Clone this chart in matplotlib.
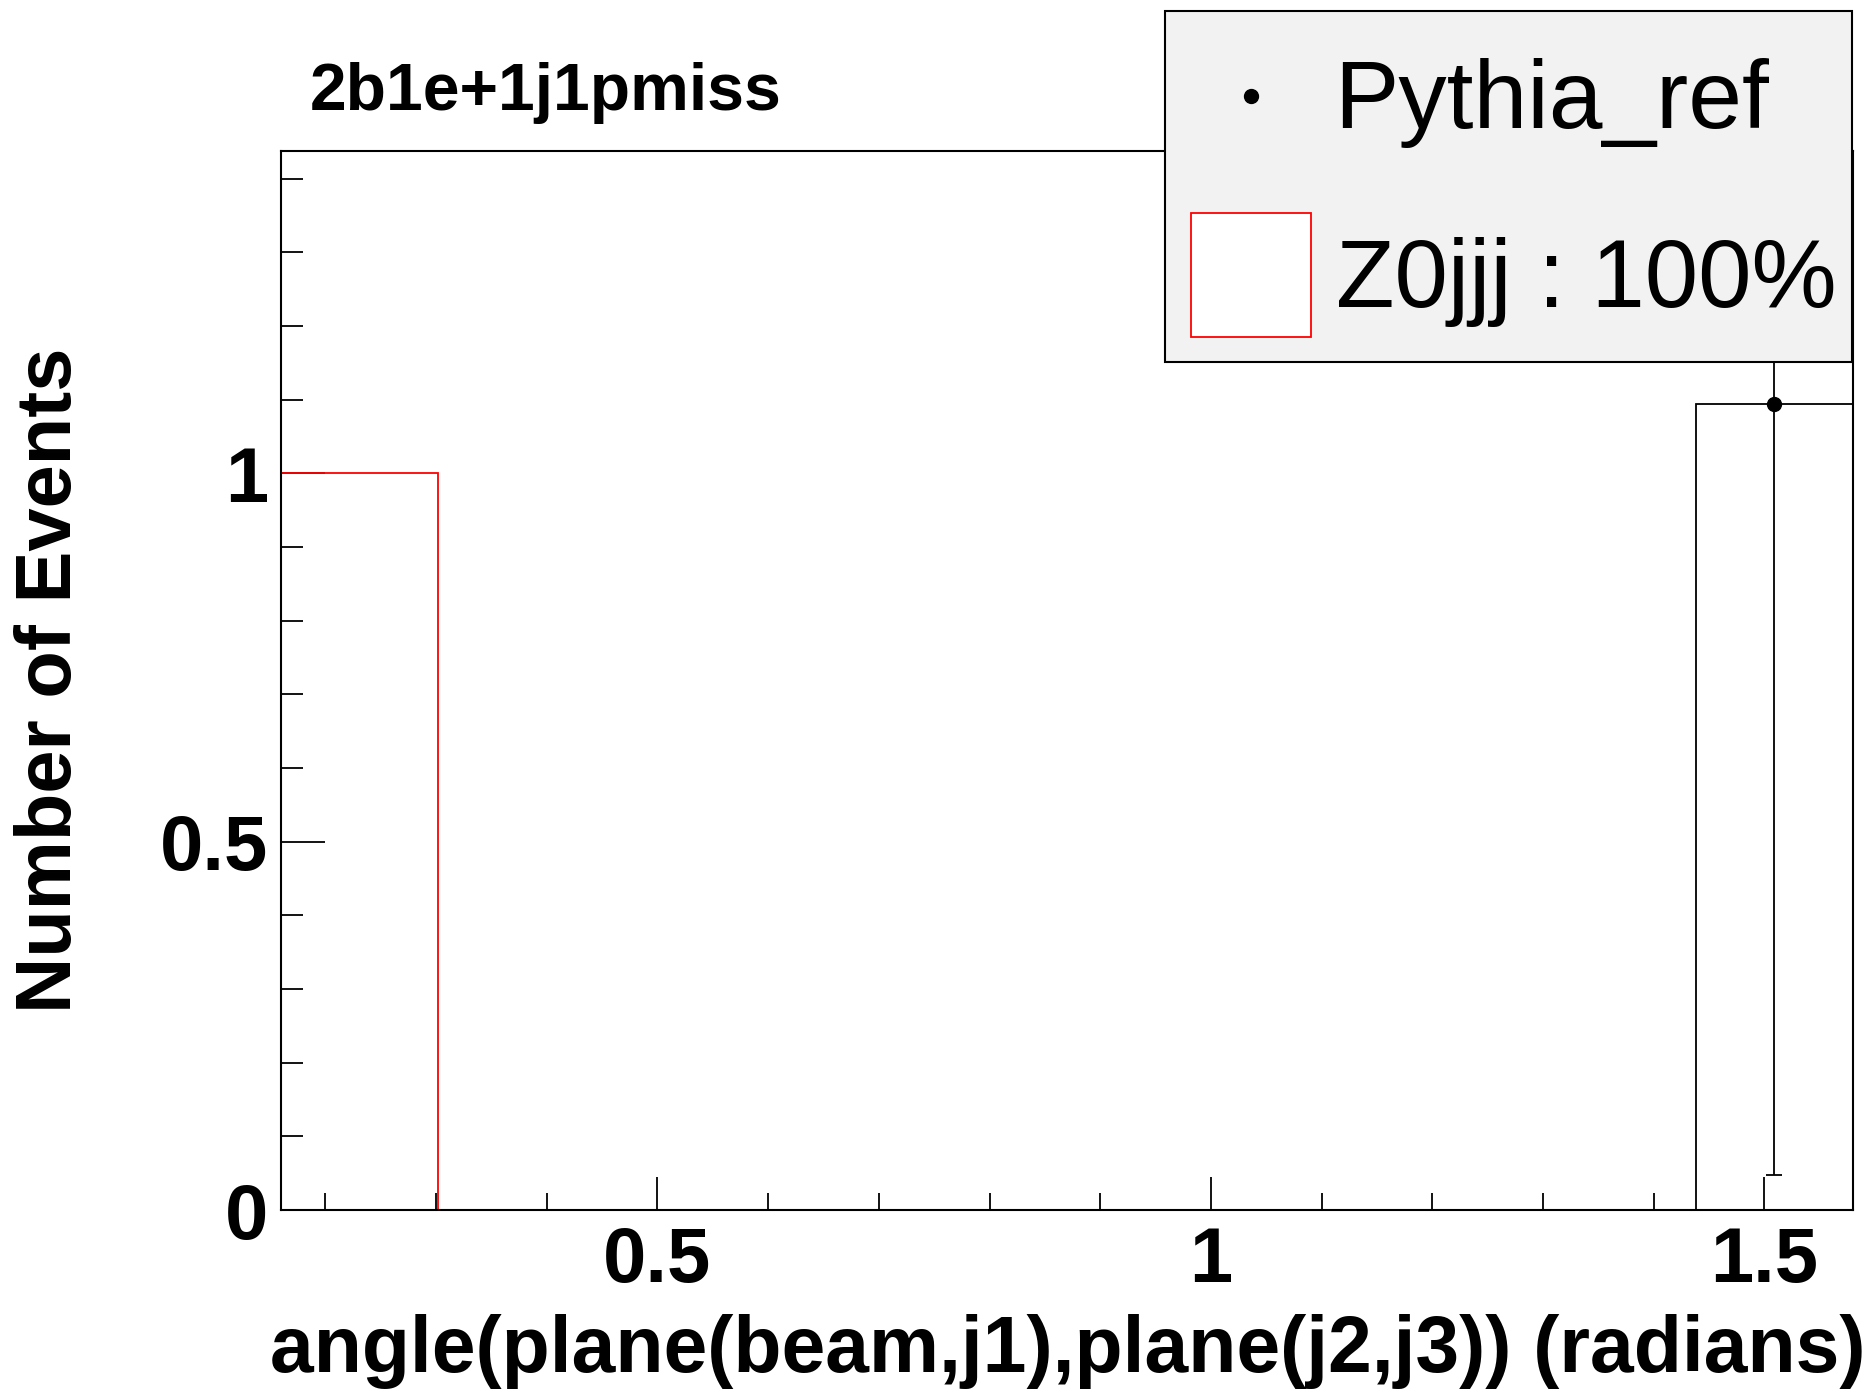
import matplotlib.pyplot as plt
from matplotlib.patches import Rectangle
from matplotlib.lines import Line2D
from matplotlib.ticker import MultipleLocator

plt.rcParams['font.family'] = ['Liberation Sans', 'DejaVu Sans']

# histogram binning (10 bins)
bin_edges = [0.16, 0.302, 0.444, 0.586, 0.728, 0.87, 1.012, 1.154, 1.296, 1.438, 1.58]
z0jjj_counts = [1, 0, 0, 0, 0, 0, 0, 0, 0, 0]
pythia_counts = [0, 0, 0, 0, 0, 0, 0, 0, 0, 1.094]
pythia_errors = [0, 0, 0, 0, 0, 0, 0, 0, 0, 1.047]

x_ticks = [0.5, 1, 1.5]
x_tick_labels = ['0.5', '1', '1.5']
y_ticks = [0, 0.5, 1]
y_tick_labels = ['0', '0.5', '1']

title = '2b1e+1j1pmiss'
x_title = 'angle(plane(beam,j1),plane(j2,j3)) (radians)'
y_title = 'Number of Events'
legend_labels = ['Pythia_ref', 'Z0jjj : 100%']

W, H = 1874, 1395
fig = plt.figure(figsize=(W / 100, H / 100), dpi=100)
ax = fig.add_axes([281 / W, 1 - 1210 / H, (1853 - 281) / W, (1210 - 151) / H])

# lines sit under the spines so the zero baseline stays black
ax.stairs(z0jjj_counts, bin_edges, color='red', lw=1.3, zorder=1.8)
ax.stairs(pythia_counts, bin_edges, color='black', lw=1.3, zorder=2)

centers = [(bin_edges[i] + bin_edges[i + 1]) / 2 for i in range(len(pythia_counts))]
px = [c for c, v in zip(centers, pythia_counts) if v > 0]
py = [v for v in pythia_counts if v > 0]
pe = [e for e, v in zip(pythia_errors, pythia_counts) if v > 0]
ax.errorbar(px, py, yerr=pe, fmt='o', color='black', ms=10, elinewidth=1.3,
            capsize=6, capthick=1.3, zorder=4)

ax.set_xlim(bin_edges[0], bin_edges[-1])
ax.set_ylim(0, 1.4375)

ax.set_xticks(x_ticks)
ax.set_xticklabels(x_tick_labels)
ax.set_yticks(y_ticks)
ax.set_yticklabels(y_tick_labels)
ax.xaxis.set_minor_locator(MultipleLocator(0.1))
ax.yaxis.set_minor_locator(MultipleLocator(0.1))
ax.tick_params(axis='x', which='major', direction='in', length=24, width=1.3,
               labelsize=56, pad=11, top=False)
ax.tick_params(axis='x', which='minor', direction='in', length=12, width=1.3, top=False)
ax.tick_params(axis='y', which='major', direction='in', length=32, width=1.3,
               labelsize=56, pad=9, right=False)
ax.tick_params(axis='y', which='minor', direction='in', length=16, width=1.3, right=False)
for lab in ax.get_xticklabels() + ax.get_yticklabels():
    lab.set_fontweight('bold')
for sp in ax.spines.values():
    sp.set_linewidth(1.5)

fig.text(310 / W, 1 - 110 / H, title, fontsize=47.5, fontweight='bold',
         ha='left', va='baseline')
fig.text(1866 / W, 1 - 1372 / H, x_title, fontsize=56.6, fontweight='bold',
         ha='right', va='baseline')
fig.text(51 / W, 1 - 680 / H, y_title, fontsize=56, fontweight='bold',
         rotation=90, ha='center', va='center')

# legend box
fig.add_artist(Rectangle((1165 / W, 1 - 362 / H), (1852 - 1165) / W, 351 / H,
                         transform=fig.transFigure, facecolor='#f2f2f2',
                         edgecolor='black', lw=1.5, zorder=5))
fig.add_artist(Line2D([1251 / W], [1 - 96 / H], marker='o', ms=10, color='black',
                      transform=fig.transFigure, zorder=6))
fig.add_artist(Rectangle((1191 / W, 1 - 337 / H), 120 / W, 124 / H,
                         transform=fig.transFigure, facecolor='white',
                         edgecolor='red', lw=1.3, zorder=6))
fig.text(1334 / W, 1 - 128 / H, legend_labels[0], fontsize=69.5, ha='left',
         va='baseline', zorder=7)
fig.text(1336 / W, 1 - 307 / H, legend_labels[1], fontsize=69, ha='left',
         va='baseline', zorder=7)

fig.savefig('out.png', dpi=100)
